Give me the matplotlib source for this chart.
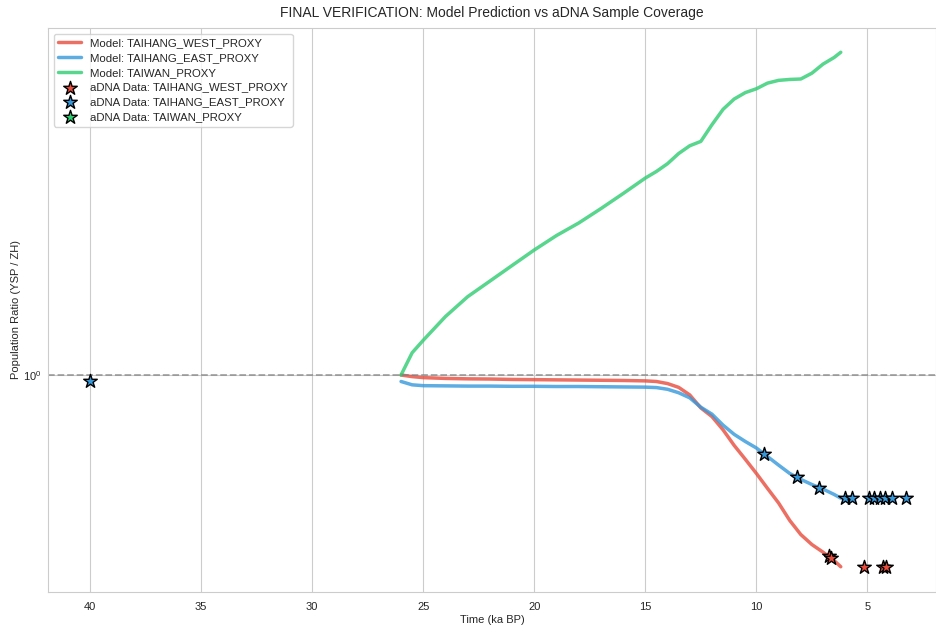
import numpy as np
import matplotlib
matplotlib.use("Agg")
import matplotlib.pyplot as plt
import seaborn as sns

# ---- data ----
time_ka = [26, 25.5, 25, 24, 23, 22, 21, 20, 19, 18, 17, 16, 15, 14.5, 14, 13.5,
           13, 12.5, 12, 11.5, 11, 10.5, 10, 9.5, 9, 8.5, 8, 7.5, 7, 6.5, 6.2]

west_ratio = [1.0, 0.992, 0.987, 0.983, 0.981, 0.980, 0.978, 0.977, 0.976, 0.975, 0.974,
              0.973, 0.971, 0.968, 0.958, 0.94, 0.905, 0.848, 0.812, 0.76, 0.703, 0.656,
              0.611, 0.567, 0.527, 0.483, 0.45, 0.428, 0.412, 0.395, 0.383]

east_ratio = [0.968, 0.952, 0.948, 0.947, 0.946, 0.946, 0.945, 0.945, 0.944, 0.944, 0.943,
              0.942, 0.941, 0.939, 0.931, 0.915, 0.892, 0.851, 0.822, 0.778, 0.743, 0.717,
              0.694, 0.665, 0.637, 0.611, 0.593, 0.578, 0.565, 0.550, 0.540]

taiwan_ratio = [1.0, 1.118, 1.19, 1.34, 1.48, 1.60, 1.73, 1.87, 2.01, 2.14, 2.30, 2.48,
                2.68, 2.77, 2.88, 3.03, 3.15, 3.22, 3.50, 3.78, 3.98, 4.11, 4.19, 4.31,
                4.37, 4.39, 4.40, 4.53, 4.74, 4.90, 5.03]

west_samples = [6.74, 6.64, 5.17, 4.30, 4.16]
east_samples = [40.0, 9.64, 8.17, 7.16, 6.0, 5.68, 4.94, 4.72, 4.45, 4.19, 3.89, 3.26]
taiwan_samples = []

pops = ["TAIHANG_WEST_PROXY", "TAIHANG_EAST_PROXY", "TAIWAN_PROXY"]
colors = ["#e74c3c", "#3498db", "#2ecc71"]

# ---- plot ----
sns.set_style("whitegrid")
plt.rcParams['font.family'] = ['Liberation Sans', 'DejaVu Sans']

fig = plt.figure(figsize=(9.37, 6.26), dpi=100)
ax = fig.add_axes([0.0512, 0.0543, 0.948, 0.901])

series = [west_ratio, east_ratio, taiwan_ratio]
samples = [west_samples, east_samples, taiwan_samples]
t_arr = np.array(time_ka)

for name, vals, col in zip(pops, series, colors):
    ax.plot(time_ka, vals, color=col, lw=2.5, alpha=0.8, label=f"Model: {name}")

for name, vals, smp, col in zip(pops, series, samples, colors):
    smp = np.array(smp, dtype=float)
    yv = np.interp(smp, t_arr[::-1], np.array(vals)[::-1]) if len(smp) else np.array([])
    ax.scatter(smp, yv, marker='*', s=105, color=col, edgecolor='black',
               linewidth=1, zorder=5, label=f"aDNA Data: {name}")

ax.axhline(1.0, color='gray', linestyle='--', lw=1.3, alpha=0.7)
ax.set_yscale('log')
ax.set_ylim(0.3375, 5.68)
ax.set_xlim(41.9, 1.9)
ax.set_xticks([40, 35, 30, 25, 20, 15, 10, 5])
ax.tick_params(axis='x', labelsize=8, pad=4)
ax.tick_params(axis='y', labelsize=8, pad=1.5)
ax.set_xlabel("Time (ka BP)", fontsize=8, labelpad=2)
ax.set_ylabel("Population Ratio (YSP / ZH)", fontsize=8, labelpad=1)
ax.set_title("FINAL VERIFICATION: Model Prediction vs aDNA Sample Coverage", fontsize=10, pad=8)
ax.legend(loc='upper left', fontsize=8.2, frameon=True, labelspacing=0.42,
          borderaxespad=0.5, handletextpad=0.8)

fig.savefig("out.png", dpi=100)
